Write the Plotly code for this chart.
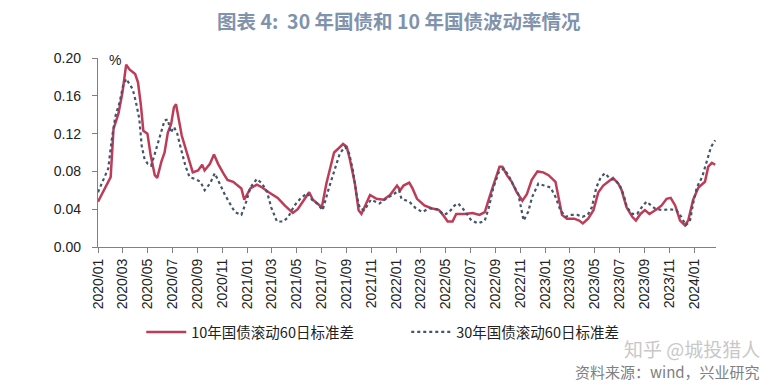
import plotly.graph_objects as go

# ---- 10Y rolling 60d std ----
dates_10y = [
    "2020-01-01", "2020-01-17", "2020-02-01", "2020-02-08", "2020-02-20", "2020-03-01", "2020-03-10",
    "2020-03-18", "2020-04-01", "2020-04-08", "2020-04-15", "2020-04-21", "2020-05-01", "2020-05-09",
    "2020-05-19", "2020-05-25", "2020-06-04", "2020-06-12", "2020-06-20", "2020-06-28", "2020-07-05",
    "2020-07-10", "2020-07-18", "2020-07-24", "2020-08-04", "2020-08-12", "2020-08-20", "2020-09-02",
    "2020-09-12", "2020-09-18", "2020-10-01", "2020-10-11", "2020-10-21", "2020-11-03", "2020-11-13",
    "2020-11-27", "2020-12-09", "2020-12-17", "2020-12-24", "2021-01-08", "2021-01-24", "2021-02-06",
    "2021-02-22", "2021-03-16", "2021-04-02", "2021-04-22", "2021-05-04", "2021-05-16", "2021-06-01",
    "2021-06-10", "2021-06-22", "2021-07-02", "2021-07-13", "2021-08-01", "2021-08-11", "2021-08-23",
    "2021-09-01", "2021-09-09", "2021-09-21", "2021-09-30", "2021-10-07", "2021-10-15", "2021-10-28",
    "2021-11-13", "2021-11-30", "2021-12-16", "2022-01-02", "2022-01-10", "2022-01-18", "2022-02-01",
    "2022-02-09", "2022-02-20", "2022-03-10", "2022-03-27", "2022-04-15", "2022-04-28", "2022-05-06",
    "2022-05-18", "2022-05-27", "2022-06-16", "2022-07-06", "2022-07-23", "2022-08-05", "2022-08-18",
    "2022-09-01", "2022-09-10", "2022-09-17", "2022-09-28", "2022-10-10", "2022-10-22", "2022-11-05",
    "2022-11-16", "2022-11-28", "2022-12-12", "2022-12-26", "2023-01-08", "2023-01-25", "2023-02-02",
    "2023-02-10", "2023-02-22", "2023-03-12", "2023-03-24", "2023-04-02", "2023-04-15", "2023-04-28",
    "2023-05-10", "2023-05-22", "2023-06-03", "2023-06-15", "2023-06-28", "2023-07-06", "2023-07-18",
    "2023-08-01", "2023-08-10", "2023-08-21", "2023-09-01", "2023-09-12", "2023-09-30", "2023-10-12",
    "2023-10-24", "2023-11-03", "2023-11-14", "2023-11-26", "2023-12-08", "2023-12-16", "2023-12-28",
    "2024-01-10", "2024-01-26", "2024-02-03", "2024-02-12", "2024-02-20",
]
vals_10y = [
    0.048, 0.062, 0.074, 0.125, 0.141, 0.164, 0.193,
    0.188, 0.183, 0.174, 0.150, 0.123, 0.120, 0.097,
    0.076, 0.073, 0.090, 0.100, 0.121, 0.130, 0.148,
    0.151, 0.132, 0.118, 0.102, 0.090, 0.079, 0.081,
    0.087, 0.081, 0.088, 0.098, 0.088, 0.078, 0.071,
    0.069, 0.065, 0.062, 0.050, 0.062, 0.066, 0.063,
    0.058, 0.052, 0.044, 0.036, 0.040, 0.048, 0.058,
    0.050, 0.046, 0.042, 0.067, 0.100, 0.104, 0.109,
    0.106, 0.092, 0.067, 0.039, 0.035, 0.042, 0.055,
    0.051, 0.050, 0.055, 0.065, 0.060, 0.065, 0.068,
    0.062, 0.051, 0.044, 0.041, 0.039, 0.032, 0.027,
    0.027, 0.035, 0.035, 0.036, 0.034, 0.037, 0.055,
    0.074, 0.085, 0.085, 0.076, 0.069, 0.058, 0.049,
    0.056, 0.071, 0.080, 0.079, 0.076, 0.069, 0.050,
    0.034, 0.030, 0.030, 0.028, 0.025, 0.030, 0.039,
    0.058, 0.065, 0.069, 0.073, 0.067, 0.060, 0.042,
    0.032, 0.028, 0.035, 0.039, 0.035, 0.040, 0.044,
    0.051, 0.052, 0.044, 0.028, 0.023, 0.028, 0.050,
    0.063, 0.069, 0.085, 0.089, 0.087,
]

# ---- 30Y rolling 60d std ----
dates_30y = [
    "2020-01-01", "2020-01-14", "2020-01-26", "2020-02-05", "2020-02-13", "2020-02-23", "2020-03-02",
    "2020-03-10", "2020-03-18", "2020-03-26", "2020-04-03", "2020-04-11", "2020-04-17", "2020-04-24",
    "2020-05-02", "2020-05-10", "2020-05-18", "2020-05-30", "2020-06-12", "2020-06-20", "2020-06-27",
    "2020-07-05", "2020-07-13", "2020-07-22", "2020-08-02", "2020-08-12", "2020-08-25", "2020-09-08",
    "2020-09-18", "2020-10-01", "2020-10-13", "2020-10-25", "2020-11-07", "2020-11-19", "2020-12-01",
    "2020-12-17", "2020-12-29", "2021-01-08", "2021-01-24", "2021-02-06", "2021-02-18", "2021-02-28",
    "2021-03-14", "2021-03-30", "2021-04-11", "2021-04-26", "2021-05-10", "2021-05-27", "2021-06-08",
    "2021-06-21", "2021-07-04", "2021-07-19", "2021-08-01", "2021-08-15", "2021-08-28", "2021-09-07",
    "2021-09-16", "2021-09-26", "2021-10-03", "2021-10-14", "2021-10-30", "2021-11-20", "2021-12-06",
    "2021-12-22", "2022-01-07", "2022-01-13", "2022-02-01", "2022-02-17", "2022-03-05", "2022-03-22",
    "2022-04-11", "2022-04-28", "2022-05-10", "2022-05-23", "2022-06-01", "2022-06-17", "2022-07-03",
    "2022-07-20", "2022-08-05", "2022-08-15", "2022-08-26", "2022-09-08", "2022-09-20", "2022-10-02",
    "2022-10-12", "2022-10-26", "2022-11-08", "2022-11-19", "2022-11-29", "2022-12-14", "2022-12-28",
    "2023-01-13", "2023-01-25", "2023-02-06", "2023-02-19", "2023-03-03", "2023-03-20", "2023-04-01",
    "2023-04-14", "2023-04-24", "2023-05-05", "2023-05-16", "2023-05-26", "2023-06-08", "2023-06-20",
    "2023-07-02", "2023-07-11", "2023-07-19", "2023-08-01", "2023-08-13", "2023-08-24", "2023-09-05",
    "2023-09-16", "2023-09-28", "2023-10-15", "2023-10-31", "2023-11-17", "2023-11-29", "2023-12-10",
    "2023-12-20", "2023-12-28", "2024-01-06", "2024-01-19", "2024-01-31", "2024-02-10", "2024-02-20",
]
vals_30y = [
    0.058, 0.071, 0.083, 0.118, 0.139, 0.153, 0.170,
    0.178, 0.172, 0.167, 0.153, 0.136, 0.107, 0.093,
    0.088, 0.086, 0.097, 0.116, 0.134, 0.135, 0.121,
    0.127, 0.120, 0.104, 0.086, 0.074, 0.072, 0.069,
    0.060, 0.067, 0.078, 0.067, 0.055, 0.046, 0.037,
    0.034, 0.048, 0.063, 0.072, 0.067, 0.058, 0.042,
    0.027, 0.027, 0.032, 0.044, 0.051, 0.057, 0.050,
    0.046, 0.039, 0.062, 0.079, 0.099, 0.106, 0.099,
    0.081, 0.053, 0.041, 0.039, 0.050, 0.046, 0.051,
    0.055, 0.060, 0.051, 0.048, 0.041, 0.037, 0.041,
    0.040, 0.034, 0.037, 0.044, 0.046, 0.038, 0.028,
    0.025, 0.028, 0.042, 0.063, 0.079, 0.083, 0.076,
    0.067, 0.056, 0.028, 0.037, 0.053, 0.067, 0.065,
    0.063, 0.053, 0.039, 0.032, 0.034, 0.034, 0.032,
    0.034, 0.042, 0.063, 0.074, 0.078, 0.072, 0.071,
    0.065, 0.055, 0.042, 0.035, 0.035, 0.042, 0.048,
    0.044, 0.040, 0.039, 0.040, 0.039, 0.032, 0.023,
    0.027, 0.046, 0.063, 0.074, 0.092, 0.106, 0.113,
]

series_names = ["10年国债滚动60日标准差", "30年国债滚动60日标准差"]
y_ticks = [0.00, 0.04, 0.08, 0.12, 0.16, 0.20]
title_text = "图表 4:  30 年国债和 10 年国债波动率情况"
source_text = "资料来源：wind，兴业研究"
watermark_text = "知乎 @城投猎人"

fig = go.Figure()
fig.add_trace(go.Scatter(
    x=dates_10y, y=vals_10y, mode="lines", name=series_names[0],
    line=dict(color="#BE3C58", width=2.5),
))
fig.add_trace(go.Scatter(
    x=dates_30y, y=vals_30y, mode="lines", name=series_names[1],
    line=dict(color="#44546A", width=2.2, dash="dot"),
))

tick_font = dict(family="Liberation Sans, Arial, sans-serif", size=14, color="#222222")

# page body has an 8px margin, so the figure is 8px smaller and margins shifted
fig.update_layout(
    width=772, height=378,
    margin=dict(l=90, r=64, t=50, b=139, autoexpand=False),
    paper_bgcolor="white", plot_bgcolor="white",
    showlegend=True,
    legend=dict(
        orientation="h", x=0.07, xanchor="left", y=-0.45, yanchor="middle",
        font=dict(family="Noto Sans CJK SC", size=14.5, color="#222222"),
        bgcolor="rgba(0,0,0,0)", itemwidth=40, entrywidth=210, entrywidthmode="pixels",
    ),
    xaxis=dict(
        type="date", range=["2020-01-01", "2024-02-22"],
        tickmode="linear", tick0="2020-01-01", dtick="M2", tickformat="%Y/%m",
        tickangle=-90, ticks="outside", ticklen=5, tickcolor="#808080",
        showline=True, linecolor="#808080", linewidth=1.3,
        showgrid=False, zeroline=False, tickfont=tick_font,
    ),
    yaxis=dict(
        range=[0, 0.20], tickvals=y_ticks, tickformat=".2f",
        ticks="outside", ticklen=5, tickcolor="#808080",
        showline=True, linecolor="#808080", linewidth=1.3,
        showgrid=False, zeroline=False, tickfont=tick_font, ticklabelstandoff=8,
    ),
    annotations=[
        dict(text="<b>" + title_text + "</b>", xref="paper", yref="paper", x=0.487, y=1.2,
             xanchor="center", yanchor="middle", showarrow=False,
             font=dict(family="Noto Sans CJK SC", size=19.5, color="#8093AD")),
        dict(text="%", xref="paper", yref="paper", x=0.015, y=0.99, xanchor="left", yanchor="middle",
             showarrow=False, font=dict(family="Liberation Sans, Arial", size=14, color="#222222")),
        dict(text=watermark_text, xref="paper", yref="paper", x=1.075, y=-0.535, xanchor="right",
             yanchor="middle", showarrow=False,
             font=dict(family="Noto Sans CJK SC", size=19, color="#C8C8C8")),
        dict(text=source_text, xref="paper", yref="paper", x=1.075, y=-0.66, xanchor="right",
             yanchor="middle", showarrow=False,
             font=dict(family="Noto Sans CJK SC", size=15, color="#808080")),
    ],
)

fig.write_html("out.html")
